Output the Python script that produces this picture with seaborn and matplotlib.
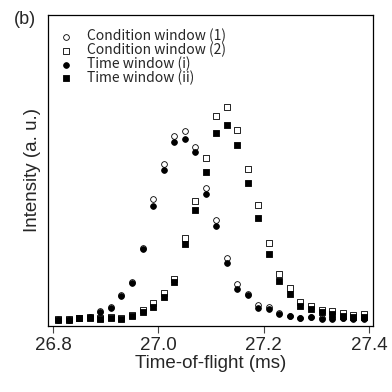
import numpy as np
import pandas as pd
import seaborn as sns
import matplotlib.pyplot as plt

# time-of-flight grid (ms), shared by all four series
tof = [26.81, 26.83, 26.85, 26.87, 26.89, 26.91, 26.93, 26.95, 26.97, 26.99,
       27.01, 27.03, 27.05, 27.07, 27.09, 27.11, 27.13, 27.15, 27.17, 27.19,
       27.21, 27.23, 27.25, 27.27, 27.29, 27.31, 27.33, 27.35, 27.37, 27.39]

# intensities (a. u.)
cond_1 = [6.5, 6.5, 8, 9, 14.5, 18.5, 31, 44, 78, 126.7,
          162, 190, 195.3, 179, 138.3, 105.7, 68.3, 42.3, 31.5, 21,
          19, 12.5, 10, 8, 9, 7.5, 7.5, 8, 7.5, 7.5]
cond_2 = [6.5, 6.5, 8, 8.5, 7.5, 8.5, 8, 11, 16, 23,
          32.5, 47.3, 88.3, 125.3, 168, 210.3, 218.7, 196, 156.7, 121.3,
          83, 51.7, 38.3, 23.5, 20, 16, 15, 12.7, 11, 11.7]
time_i = [6, 6, 7.5, 8.5, 13.7, 17.7, 30.3, 43.3, 77, 120.3,
          156.3, 183.7, 187, 174, 132, 100.3, 63.3, 37.3, 30.7, 17.7,
          16.5, 11.7, 9.5, 7.7, 8.7, 7, 7, 7.5, 7, 7]
time_ii = [6, 6, 7.5, 8, 7, 7.7, 7, 10, 14.3, 19.3,
           28.7, 43.7, 82, 115.7, 153.7, 193.3, 201, 180.7, 143.3, 108.3,
           72.3, 44.7, 32.3, 19.5, 16.5, 13.5, 11.7, 10, 8.5, 9]

labels = ["Condition window (1)", "Condition window (2)",
          "Time window (i)", "Time window (ii)"]
xticks = [26.8, 27.0, 27.2, 27.4]

sns.set_style("white")
plt.rcParams["font.family"] = ["Liberation Sans", "DejaVu Sans"]

fig = plt.figure(figsize=(3.92, 3.92), dpi=100)
ax = fig.add_axes([0.1224, 0.1684, 0.829, 0.7934])

# open markers first, filled ones drawn on top
series = [(cond_1, "o", "white"), (cond_2, "s", "white"),
          (time_i, "o", "black"), (time_ii, "s", "black")]
for (vals, mk, fc), lab in zip(series, labels):
    sns.scatterplot(x=tof, y=vals, marker=mk, s=17, color=fc,
                    edgecolor="black", linewidth=0.6, label=lab, ax=ax)

ax.set_xlim(26.7905, 27.4076)
ax.set_ylim(0, 311)
ax.set_xticks(xticks)
ax.set_xticklabels([f"{t:.1f}" for t in xticks])
ax.set_yticks([])
ax.tick_params(axis="x", direction="out", length=5, width=0.8,
               labelsize=13.5, bottom=True, color="#444444", pad=3)
for sp in ax.spines.values():
    sp.set_color("black")
    sp.set_linewidth(0.9)

ax.set_xlabel("Time-of-flight (ms)", fontsize=13.5, labelpad=1)
ax.set_ylabel("Intensity (a. u.)", fontsize=13.5, labelpad=5)

ax.legend(loc="upper left", frameon=False,
          prop={"family": ["Noto Sans CJK JP", "DejaVu Sans"], "size": 10},
          handletextpad=1.2, labelspacing=-0.05, borderaxespad=0.3,
          handlelength=0.6, borderpad=0.7)

fig.text(0.035, 0.95, "(b)", fontsize=13, ha="left", va="center")

fig.savefig("out.png", dpi=100)
